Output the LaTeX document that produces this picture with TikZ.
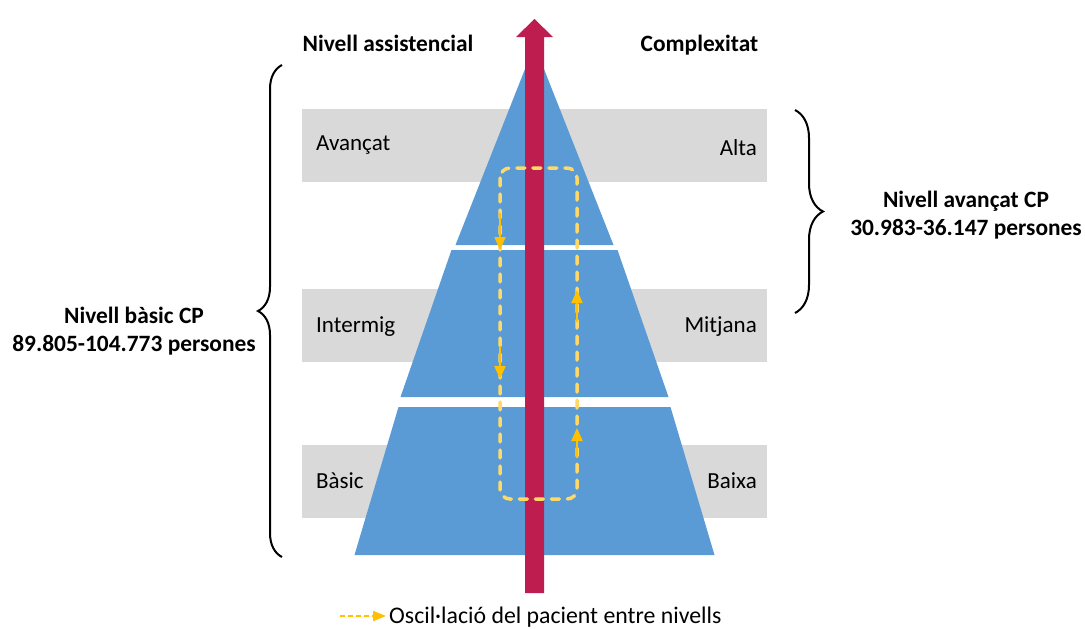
\documentclass[tikz,border=0pt]{standalone}
\usepackage{fontspec}
\setmainfont{Carlito}
\usetikzlibrary{positioning,arrows.meta,decorations.pathreplacing,calc}
\definecolor{blau}{HTML}{5B9BD5}
\definecolor{grana}{HTML}{BE1E4F}
\definecolor{gris}{HTML}{D9D9D9}
\definecolor{groc}{HTML}{FFD966}
\definecolor{taronja}{HTML}{FFC000}
\tikzset{
  banda/.style    = {fill=gris, minimum width=465pt, minimum height=73pt,
                     inner sep=0pt, anchor=north west},
  etiqueta/.style = {font=\fontsize{23}{27}\selectfont, inner sep=0pt},
  titol/.style    = {font=\fontsize{23.4}{27.5}\selectfont\bfseries, align=center, inner sep=0pt},
  tram/.style     = {fill=blau},
  oscil/.style    = {draw=groc, line width=3.5pt, line cap=round,
                     dash pattern=on 8pt off 8pt, rounded corners=10pt},
  fletxeta/.style = {-{Triangle[width=11pt,length=13pt]}, draw=taronja, fill=taronja, line width=2pt},
  llegendafl/.style = {-{Triangle[width=10pt,length=13pt]}, draw=taronja, fill=taronja,
                     line width=2pt, dash pattern=on 5pt off 3pt},
  clau/.style     = {decorate, decoration={brace, amplitude=#1}, line width=2pt}
}

\begin{document}
\begin{tikzpicture}[x=1pt, y=-1pt]
        \useasboundingbox (0,0) rectangle (1085,629);

        % bandes de nivell
        \node[banda] (b1) at (302,109) {};
        \node[banda] (b2) at (302,289) {};
        \node[banda] (b3) at (302,445) {};

        \node[etiqueta, anchor=base west] (avancat)  at (316,150) {Avançat};
        \node[etiqueta, anchor=base west] (intermig) at (316,332.5) {Intermig};
        \node[etiqueta, anchor=base west] (basic)    at (316,488.5) {Bàsic};
        \node[etiqueta, anchor=base east] (alta)     at (757,155.5) {Alta};
        \node[etiqueta, anchor=base east] (mitjana)  at (757,332.5) {Mitjana};
        \node[etiqueta, anchor=base east] (baixa)    at (757,488.5) {Baixa};

        % piramide
        \fill[tram] (534.5,45) -- (613.5,245) -- (455.5,245) -- cycle;
        \fill[tram] (451.5,250) -- (617.5,250) -- (668.5,397) -- (400.5,397) -- cycle;
        \fill[tram] (398.5,407) -- (670.5,407) -- (714.5,555) -- (354.5,555) -- cycle;

        % fletxa de complexitat
        \fill[grana] (525,593) -- (525,37) -- (516,37) -- (534.5,19) -- (553,37)
                     -- (544,37) -- (544,593) -- cycle;

        % oscil.lacio
        \coordinate (o1) at (500,168);
        \coordinate (o2) at (577,499);
        \draw[oscil] (o1) rectangle (o2);

        \coordinate (a1) at (500,213);  \coordinate (a1f) at (500,250);
        \coordinate (a2) at (500,346);  \coordinate (a2f) at (500,379);
        \coordinate (a3) at (577,458);  \coordinate (a3f) at (577,428);
        \coordinate (a4) at (577,322);  \coordinate (a4f) at (577,290);
        \draw[fletxeta] (a1) -- (a1f);
        \draw[fletxeta] (a2) -- (a2f);
        \draw[fletxeta] (a3) -- (a3f);
        \draw[fletxeta] (a4) -- (a4f);

        % titols
        \node[titol, anchor=base] (assist) at (388,51) {Nivell assistencial};
        \node[titol, anchor=base] (complex) at (699.5,51) {Complexitat};

        \node[titol] (nbasic) at (134,331) {Nivell bàsic CP\\ 89.805-104.773 persones};
        \node[titol] (navanc) at (966,215) {Nivell avançat CP\\ 30.983-36.147 persones};

        % claus
        \coordinate (c1) at (282,557);  \coordinate (c2) at (282,65);
        \coordinate (c3) at (795,110);  \coordinate (c4) at (795,313);
        \draw[clau=24pt] (c1) -- (c2);
        \draw[clau=28pt] (c3) -- (c4);

        % llegenda
        \node[etiqueta, anchor=west, font=\fontsize{23.8}{28}\selectfont] (llegenda) at (389,617)
             {Oscil·lació del pacient entre nivells};
        \coordinate (l0) at (340,616);
        \draw[llegendafl] (l0) -- ([xshift=-3pt]llegenda.west |- l0);
    \end{tikzpicture}
\end{document}
